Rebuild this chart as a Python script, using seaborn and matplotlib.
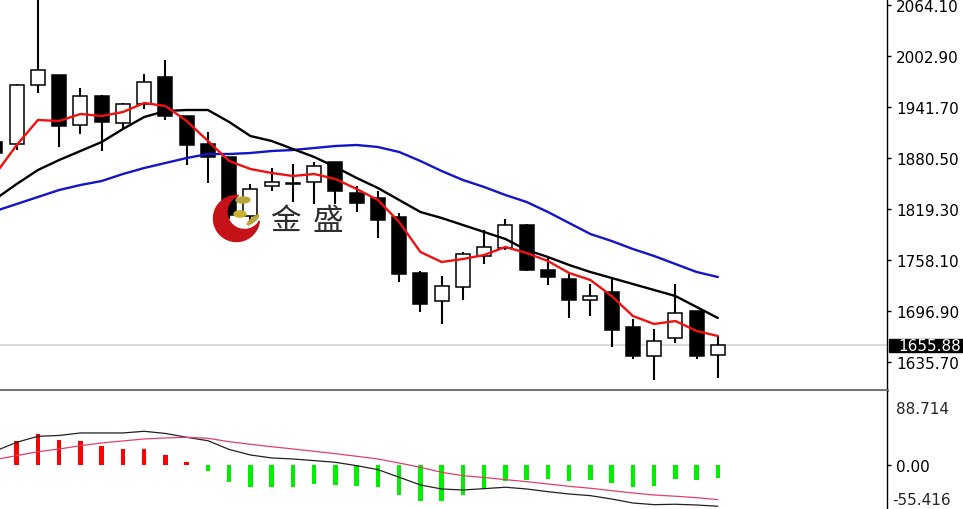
import numpy as np
import matplotlib
matplotlib.use("Agg")
import matplotlib.pyplot as plt
from matplotlib.patches import Polygon, Circle, Ellipse, Rectangle
import seaborn as sns

# candles (first one is cut by the left edge)
opens = [1899.7, 1897.3, 1968.1, 1980.1, 1920.1, 1954.9, 1922.5, 1945.3, 1977.7, 1930.9,
         1897.3, 1881.7, 1810.9, 1846.9, 1849.3, 1851.7, 1875.7, 1838.5, 1832.5, 1809.7,
         1742.5, 1708.9, 1725.7, 1762.9, 1772.5, 1800.1, 1746.1, 1735.3, 1710.1, 1719.7,
         1677.7, 1642.9, 1664.5, 1696.9, 1644.1]
highs = [1903.3, 1969.3, 2075.0, 1980.5, 1964.5, 1956.1, 1946.5, 1981.3, 1998.1, 1931.5,
         1911.7, 1882.3, 1849.3, 1868.5, 1873.3, 1875.7, 1876.3, 1846.9, 1840.9, 1814.5,
         1744.9, 1738.9, 1767.7, 1794.1, 1807.3, 1801.3, 1760.5, 1742.5, 1729.3, 1735.3,
         1687.3, 1675.3, 1729.3, 1697.5, 1666.9]
lows = [1879.3, 1890.1, 1958.5, 1893.7, 1909.3, 1888.9, 1915.3, 1939.3, 1926.1, 1872.1,
        1850.5, 1807.3, 1801.3, 1840.9, 1827.7, 1825.3, 1825.3, 1815.7, 1784.5, 1731.7,
        1695.7, 1681.3, 1710.1, 1753.3, 1770.1, 1744.9, 1728.1, 1688.5, 1690.9, 1653.7,
        1639.3, 1614.1, 1658.5, 1639.3, 1616.5]
closes = [1886.5, 1968.1, 1986.1, 1918.9, 1954.9, 1923.7, 1945.3, 1971.7, 1930.9, 1896.1,
          1881.7, 1812.1, 1843.3, 1851.7, 1850.5, 1870.9, 1840.9, 1826.5, 1806.1, 1741.3,
          1705.3, 1726.9, 1765.3, 1773.7, 1800.1, 1746.1, 1737.7, 1710.1, 1714.9, 1674.1,
          1642.9, 1660.9, 1694.5, 1642.9, 1655.88]

ma_fast = [1861.3, 1896.1, 1926.1, 1924.9, 1933.3, 1930.9, 1935.7, 1946.5, 1942.9, 1924.9,
           1900.9, 1876.9, 1867.3, 1862.5, 1858.9, 1861.3, 1855.3, 1843.3, 1830.1, 1803.7,
           1767.7, 1755.7, 1759.3, 1764.1, 1773.7, 1766.5, 1756.9, 1742.5, 1734.1, 1714.9,
           1690.9, 1681.3, 1684.9, 1672.9, 1666.9]
ma_mid = [1831.3, 1849.3, 1866.1, 1878.1, 1888.9, 1899.7, 1915.3, 1929.7, 1936.9, 1938.1,
          1938.1, 1923.7, 1906.9, 1900.9, 1891.3, 1881.7, 1869.7, 1856.5, 1844.5, 1830.1,
          1815.7, 1808.5, 1800.1, 1791.7, 1783.3, 1770.1, 1761.7, 1752.1, 1743.7, 1736.5,
          1729.3, 1722.1, 1714.9, 1701.7, 1688.5]
ma_slow = [1816.9, 1825.3, 1833.7, 1842.1, 1848.1, 1852.9, 1861.3, 1868.5, 1874.5, 1880.5,
           1885.3, 1885.3, 1886.5, 1888.9, 1890.1, 1892.5, 1894.9, 1896.1, 1893.7, 1887.7,
           1876.9, 1864.9, 1854.1, 1845.7, 1836.1, 1827.7, 1815.7, 1802.5, 1789.3, 1780.9,
           1771.3, 1762.9, 1753.3, 1743.7, 1737.7]

# lower panel
hist = [20.0, 29.1, 36.8, 30.3, 29.1, 23.1, 19.2, 19.2, 12.4, 3.2,
        -6.8, -20.8, -26.0, -26.8, -26.8, -22.8, -24.0, -24.8, -26.8, -35.6,
        -43.2, -43.2, -35.6, -28.0, -18.8, -18.0, -16.8, -19.2, -18.0, -22.0,
        -26.0, -24.8, -16.8, -18.0, -15.2]
macd_line = [16.8, 27.2, 34.4, 35.4, 38.4, 38.4, 38.4, 40.4, 37.8, 33.2,
             29.1, 18.6, 12.0, 8.4, 7.2, 5.2, 3.2, -0.8, -5.6, -14.7,
             -24.0, -28.8, -30.0, -28.4, -26.7, -28.8, -32.0, -34.8, -36.8, -40.8,
             -45.6, -47.6, -47.1, -48.0, -49.5]
signal_line = [6.6, 11.2, 15.9, 19.2, 23.1, 26.4, 28.8, 31.2, 32.4, 33.2,
               32.0, 27.9, 24.8, 21.9, 19.2, 16.4, 13.5, 10.4, 7.2, 2.4,
               -2.8, -8.8, -12.8, -15.0, -17.6, -20.0, -22.8, -25.6, -27.9, -30.8,
               -33.6, -36.0, -37.5, -39.2, -41.6]

price_ticks = [2064.10, 2002.90, 1941.70, 1880.50, 1819.30, 1758.10, 1696.90, 1635.70]
last_price = 1655.88
macd_max, macd_min = 88.714, -55.416

W, H = 963, 510
sns.set_style("white")
plt.rcParams['font.family'] = ['DejaVu Sans']
FS = 11

fig = plt.figure(figsize=(W / 100, H / 100), dpi=100)
ax = fig.add_axes([0, (H - 391) / H, 887 / W, 391 / H])
ax2 = fig.add_axes([0, 0, 887 / W, (H - 392) / H])

idx = np.arange(len(opens))
o = np.array(opens)
c = np.array(closes)
up = c >= o

ax.vlines(idx, lows, highs, color="black", lw=1.5, zorder=2)
ax.bar(idx, np.maximum(np.abs(c - o), 0.6), bottom=np.minimum(o, c), width=0.66,
       color=np.where(up, "white", "black"), edgecolor="black", lw=1.1, zorder=3)

sns.lineplot(x=idx, y=ma_slow, color="#1414c8", lw=1.7, ax=ax, zorder=4)
sns.lineplot(x=idx, y=ma_mid, color="black", lw=1.7, ax=ax, zorder=4)
sns.lineplot(x=idx, y=ma_fast, color="#f01010", lw=1.7, ax=ax, zorder=5)
ax.axhline(last_price, color="#d4d4d4", lw=1.2, zorder=1)

xlim = (0.214, 41.96)
ax.set_xlim(*xlim)
ax.set_ylim(1602.1, 2071.3)
ax.set_xticks([])
ax.yaxis.tick_right()
ax.set_yticks(price_ticks)
ax.set_yticklabels([f"{v:.2f}" for v in price_ticks])
ax.tick_params(axis="y", direction="out", length=3, width=1, pad=3.6,
               labelsize=FS, colors="black", right=True)
for s in ["top", "left"]:
    ax.spines[s].set_visible(False)
ax.spines["right"].set_color("black")
ax.spines["right"].set_linewidth(1)
ax.spines["bottom"].set_color("#6e6e6e")
ax.spines["bottom"].set_linewidth(2)

# histogram + lines
h = np.array(hist)
ax2.bar(idx, h, width=0.21, color=np.where(h >= 0, "#ff0000", "#00ee00"), lw=0, zorder=2)
sns.lineplot(x=idx, y=macd_line, color="#202020", lw=0.9, ax=ax2, zorder=3)
sns.lineplot(x=idx, y=signal_line, color="#e0406a", lw=0.9, ax=ax2, zorder=3)
ax2.set_xlim(*xlim)
ax2.set_ylim(-52.8, macd_max)
ax2.set_xticks([])
ax2.yaxis.tick_right()
ax2.set_yticks([0])
ax2.set_yticklabels(["0.00"])
ax2.tick_params(axis="y", direction="out", length=3, width=1, pad=3.6,
                labelsize=FS, colors="black", right=True)
for s in ["top", "left", "bottom"]:
    ax2.spines[s].set_visible(False)
ax2.spines["right"].set_color("black")
ax2.spines["right"].set_linewidth(1)

fig.text(896 / W, (H - 410) / H, f"{macd_max:.3f}", fontsize=FS, va="center", ha="left")
fig.text(892 / W, (H - 501) / H, f"{macd_min:.3f}", fontsize=FS, va="center", ha="left")

# current price tag
fig.add_artist(Rectangle((889 / W, (H - 353) / H), (W - 889) / W, 13 / H,
                         transform=fig.transFigure, color="black", zorder=10))
fig.text(898 / W, (H - 346.5) / H, f"{last_price:.2f}", fontsize=FS, color="white",
         va="center", ha="left", zorder=11)


# watermark logo
def crescent(c1, R, c2, r, n=90):
    c1, c2 = np.array(c1, float), np.array(c2, float)
    d = c2 - c1
    D = np.hypot(*d)
    phi = np.arctan2(d[1], d[0])
    a = np.arccos((R**2 + D**2 - r**2) / (2 * R * D))
    t = np.linspace(phi + a, phi + 2 * np.pi - a, n)
    outer = c1 + R * np.column_stack([np.cos(t), np.sin(t)])
    psi = phi + np.pi
    b = np.arccos((r**2 + D**2 - R**2) / (2 * r * D))
    u = np.linspace(psi + b, psi - b, n)
    inner = c2 + r * np.column_stack([np.cos(u), np.sin(u)])
    return np.vstack([outer, inner]) / [W, H]


fig.add_artist(Polygon(crescent((236.5, H - 219.5), 23, (244.5, H - 213), 17.5),
                       closed=True, transform=fig.transFigure, color="#c41218", zorder=8))
fig.add_artist(Ellipse((243 / W, (H - 201) / H), 14 / W, 6 / H, angle=10,
                       transform=fig.transFigure, color="#b9a43a", zorder=8))
fig.add_artist(Circle((240 / W, (H - 215) / H), 6 / W,
                      transform=fig.transFigure, color="#c9b030", zorder=9))
fig.add_artist(Ellipse((253 / W, (H - 221) / H), 5 / W, 11 / H, angle=-30,
                       transform=fig.transFigure, color="#b9a43a", zorder=8))
fig.text(285 / W, (H - 221) / H, "金", fontsize=22, color="#2e2e2e",
         family=["Noto Sans CJK SC", "DejaVu Sans"], ha="center", va="center", zorder=9)
fig.text(328 / W, (H - 221) / H, "盛", fontsize=22, color="#2e2e2e",
         family=["Noto Sans CJK SC", "DejaVu Sans"], ha="center", va="center", zorder=9)

fig.savefig("out.png", dpi=100, facecolor="white")
